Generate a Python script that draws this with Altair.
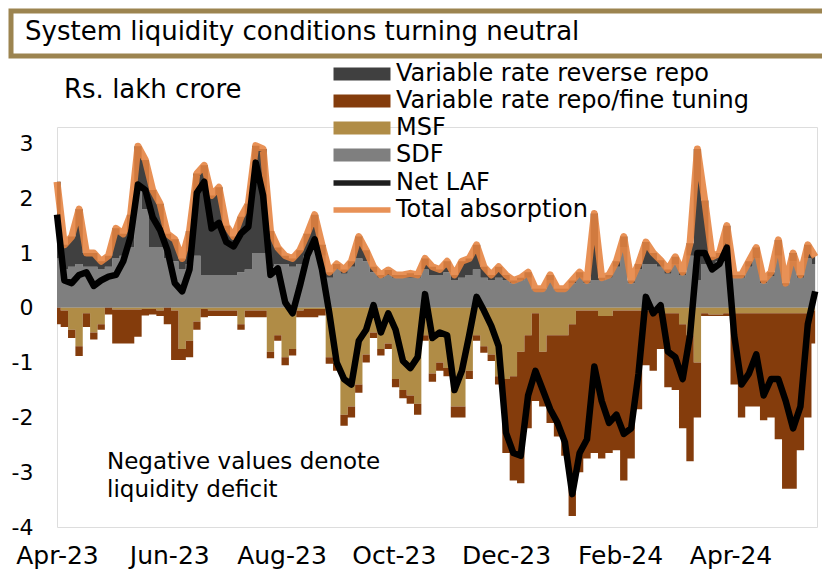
import altair as alt
import pandas as pd

# ---------------- data (Rs. lakh crore), one value every 4 days from 1 Apr 2023 ----------------
dates = pd.date_range("2023-04-01", periods=104, freq="4D").strftime("%Y-%m-%d").tolist()

sdf = [0.9, 0.7, 0.75, 0.8, 0.75, 0.75, 0.7, 0.75, 0.9, 0.95,
       1.1, 2.2, 1.8, 1.1, 1.1, 0.9, 0.85, 0.7, 0.8, 0.95,
       0.6, 0.6, 0.6, 0.6, 0.6, 0.65, 0.7, 1.0, 1.0, 0.75,
       0.8, 0.8, 0.75, 0.8, 0.95, 1.1, 0.95, 0.55, 0.7, 0.62,
       0.75, 0.9, 0.85, 0.65, 0.55, 0.6, 0.55, 0.55, 0.55, 0.55,
       0.7, 0.6, 0.6, 0.65, 0.5, 0.55, 0.6, 0.7, 0.55, 0.5,
       0.55, 0.5, 0.45, 0.5, 0.55, 0.33, 0.33, 0.5, 0.33, 0.33,
       0.45, 0.55, 0.45, 0.5, 0.5, 0.55, 0.75, 1.1, 0.45, 0.7,
       0.8, 0.8, 0.75, 0.62, 0.8, 0.6, 0.95, 0.5, 0.8, 0.8,
       0.85, 1.1, 0.55, 0.55, 0.75, 0.9, 0.45, 0.58, 0.95, 0.42,
       0.85, 0.55, 0.9, 0.8]

vrrr = [1.4, 0.45, 0.55, 1.0, 0.25, 0.25, 0.15, 0.2, 0.55, 0.4,
        0.6, 0.75, 0.9, 1.05, 0.8, 0.45, 0.4, 0.2, 0.6, 1.5,
        2.0, 1.45, 1.6, 0.9, 0.7, 1.01, 1.2, 1.96, 1.9, 0.65,
        0.3, 0.15, 0.15, 0.25, 0.4, 0.6, 0.2, 0.1, 0.1, 0.08,
        0.1, 0.4, 0.2, 0.1, 0.05, 0.09, 0.05, 0.05, 0.08, 0.05,
        0.2, 0.15, 0.1, 0.2, 0.1, 0.3, 0.3, 0.45, 0.2, 0.1,
        0.2, 0.1, 0.05, 0.05, 0.1, 0.02, 0.02, 0.1, 0.02, 0.02,
        0.05, 0.1, 0.05, 1.22, 0.05, 0.05, 0.1, 0.2, 0.05, 0.1,
        0.4, 0.2, 0.12, 0.08, 0.13, 0.05, 0.23, 2.4, 1.16, 0.13,
        0.15, 0.4, 0.05, 0.05, 0.1, 0.2, 0.05, 0.07, 0.29, 0.03,
        0.15, 0.05, 0.25, 0.13]

msf = [0, -0.05, -0.4, -0.7, -0.1, -0.45, -0.3, 0, -0.03, -0.03,
       -0.03, -0.03, -0.02, -0.02, -0.05, 0, -0.05, -0.75, -0.6, -0.25,
       -0.02, -0.05, -0.05, -0.05, -0.05, -0.3, -0.05, -0.05, -0.05, -0.8,
       -0.5, -0.9, -0.75, -0.05, -0.02, -0.02, -0.02, -0.9, -1.0, -1.95,
       -1.8, -1.4, -0.85, -0.45, -0.75, -0.65, -1.3, -1.5, -1.6, -1.75,
       -0.5, -1.2, -1.0, -1.1, -1.8, -1.8, -1.15, -0.5, -0.7, -0.85,
       -1.25, -1.3, -1.25, -0.8, -0.5, -0.1, -0.8, -0.5, -0.5, -0.5,
       -0.3, -0.05, -0.05, -0.05, -0.15, -0.15, -0.05, -0.05, -0.05, -0.05,
       -0.05, -0.05, -0.05, -0.1, -0.1, -0.3, -0.5, -1.0, -0.1, -0.12,
       -0.12, -0.1, -0.1, -0.1, -0.1, -0.1, -0.1, -0.1, -0.1, -0.1,
       -0.1, -0.1, -0.1, -0.05]

vrr = [-0.3, -0.3, -0.15, -0.18, -0.25, -0.13, -0.1, -0.12, -0.62, -0.62,
       -0.62, -0.5, -0.12, -0.1, -0.1, -0.3, -0.9, -0.2, -0.3, -0.15,
       -0.15, -0.1, -0.1, -0.1, -0.1, -0.1, -0.12, -0.12, -0.12, -0.12,
       -0.1, -0.15, -0.12, -0.12, -0.15, -0.15, -0.12, -0.12, -0.15, -0.2,
       -0.2, -0.15, -0.15, -0.1, -0.12, -0.1, -0.15, -0.15, -0.15, -0.2,
       -0.1, -0.15, -0.15, -0.15, -0.2, -0.2, -0.15, -0.1, -0.12, -0.12,
       -0.15, -1.35, -1.9, -2.4, -1.7, -1.6, -1.0, -1.6, -1.85, -2.2,
       -3.5, -2.95, -2.7, -2.6, -2.6, -2.5, -2.55, -3.1, -2.7, -1.8,
       -1.0, -1.1, -0.7, -1.35, -1.4, -1.9, -2.3, -1.0, -0.05, -0.03,
       -0.03, -0.05, -1.3, -1.9, -1.7, -1.7, -1.95, -1.9, -2.3, -3.2,
       -3.2, -2.5, -1.9, -0.6]

net_laf = [1.7, 0.5, 0.45, 0.6, 0.65, 0.4, 0.5, 0.57, 0.6, 0.85,
           1.3, 2.25, 2.15, 1.65, 1.42, 1.05, 0.45, 0.3, 0.7, 2.1,
           2.3, 1.45, 1.55, 1.2, 1.12, 1.36, 1.48, 2.65, 2.05, 0.6,
           0.72, 0.1, -0.1, 0.4, 0.95, 1.25, 0.7, -0.1, -1.0, -1.3,
           -1.4, -0.6, -0.4, 0.05, -0.45, -0.1, -0.4, -0.97, -1.1, -0.9,
           0.25, -0.55, -0.45, -0.5, -1.5, -1.15, -0.5, 0.2, -0.05, -0.33,
           -0.7, -2.28, -2.65, -2.7, -1.6, -1.15, -1.5, -1.85, -2.1, -2.45,
           -3.4, -2.65, -2.4, -1.07, -1.7, -2.1, -1.95, -2.3, -2.2, -1.2,
           0.2, -0.1, 0.05, -0.8, -0.9, -1.3, -0.5, 1.0, 1.0, 0.7,
           0.8, 1.1, -0.5, -1.4, -1.2, -0.85, -1.6, -1.3, -1.3, -1.7,
           -2.2, -1.8, -0.3, 0.3]

area_names = ["Variable rate reverse repo", "Variable rate repo/fine tuning", "MSF", "SDF"]
area_colors = ["#404040", "#843C0C", "#B08C46", "#7F7F7F"]
line_names = ["Net LAF", "Total absorption"]
line_colors = ["#000000", "#E5823F"]
tick_dates = ["2023-04-01", "2023-06-01", "2023-08-01", "2023-10-01",
              "2023-12-01", "2024-02-01", "2024-04-01"]
y_ticks = [3, 2, 1, 0, -1, -2, -3, -4]

# ---------------- tables ----------------
rows = []
for i, d in enumerate(dates):
    rows.append({"date": d, "series": "SDF", "value": sdf[i], "k": 0})
    rows.append({"date": d, "series": "Variable rate reverse repo", "value": vrrr[i], "k": 1})
    rows.append({"date": d, "series": "MSF", "value": msf[i], "k": 2})
    rows.append({"date": d, "series": "Variable rate repo/fine tuning", "value": vrr[i], "k": 3})
area_df = pd.DataFrame(rows)
line_df = pd.DataFrame({"date": dates, "net": net_laf,
                        "total": [round(a + b, 3) for a, b in zip(sdf, vrrr)]})

FONT = "DejaVu Sans"


def dt(s):
    y, m, d = (int(p) for p in s.split("-"))
    return alt.DateTime(year=y, month=m, date=d, utc=True)


x_enc = alt.X(
    "date:T",
    title=None,
    scale=alt.Scale(type="utc", domain=[dt("2023-04-01"), dt("2024-05-18")], nice=False),
    axis=alt.Axis(values=[dt(s) for s in tick_dates],
                  labelExpr="utcFormat(datum.value, '%b-%y')",
                  labelFont=FONT, labelFontSize=25, labelColor="#000000",
                  domain=False, ticks=False, grid=False, labelPadding=36,
                  labelBaseline="alphabetic", labelAlign="center", labelOverlap=False),
)
y_scale = alt.Scale(domain=[-4, 3.3], nice=False, zero=False)

areas = alt.Chart(area_df).mark_area(interpolate="step").encode(
    x=x_enc,
    y=alt.Y("value:Q", stack="zero", scale=y_scale, title=None,
            axis=alt.Axis(values=y_ticks, labelExpr="'' + datum.value",
                          labelFont=FONT, labelFontSize=22,
                          labelColor="#000000", domain=False, ticks=False,
                          grid=False, labelPadding=24)),
    color=alt.Color("series:N",
                    scale=alt.Scale(domain=area_names, range=area_colors),
                    legend=alt.Legend(orient="none", legendX=293, legendY=-65,
                                      title=None, padding=0,
                                      symbolType="M-4,-0.9H4V0.9H-4Z", symbolSize=203,
                                      symbolStrokeWidth=0, symbolOpacity=1,
                                      labelOffset=22, labelFont=FONT, labelFontSize=24,
                                      labelColor="#000000", labelLimit=600, rowPadding=3)),
    order=alt.Order("k:Q"),
)

stroke_scale = alt.Scale(domain=line_names, range=line_colors)
stroke_legend = alt.Legend(orient="none", legendX=293, legendY=44, title=None, padding=0,
                           symbolType="M-4,0H4", symbolSize=203, symbolStrokeWidth=5.5,
                           labelOffset=22, labelFont=FONT, labelFontSize=24,
                           labelColor="#000000", labelLimit=600, rowPadding=3)

total_line = alt.Chart(line_df).transform_calculate(line="'Total absorption'").mark_line(
    strokeWidth=7, opacity=0.88, strokeJoin="round").encode(
    x=x_enc, y=alt.Y("total:Q", scale=y_scale),
    stroke=alt.Stroke("line:N", scale=stroke_scale, legend=stroke_legend))

net_line = alt.Chart(line_df).transform_calculate(line="'Net LAF'").mark_line(
    strokeWidth=6.5, strokeJoin="round").encode(
    x=x_enc, y=alt.Y("net:Q", scale=y_scale),
    stroke=alt.Stroke("line:N", scale=stroke_scale, legend=stroke_legend))

one = pd.DataFrame({"a": [0]})
title_box = alt.Chart(one).mark_rect(fill="white", stroke="#9C8450", strokeWidth=5).encode(
    x=alt.value(-46), x2=alt.value(800), y=alt.value(-116), y2=alt.value(-71))
title_text = alt.Chart(one).mark_text(align="left", baseline="middle", font=FONT,
                                      fontSize=26, color="#000000").encode(
    x=alt.value(-32), y=alt.value(-95), text=alt.value("System liquidity conditions turning neutral"))
unit_text = alt.Chart(one).mark_text(align="left", baseline="middle", font=FONT,
                                     fontSize=26, color="#000000").encode(
    x=alt.value(7), y=alt.value(-37), text=alt.value("Rs. lakh crore"))
note_text = alt.Chart(one).mark_text(align="left", baseline="middle", font=FONT,
                                     fontSize=23, color="#000000", lineHeight=28).encode(
    x=alt.value(50), y=alt.value(335),
    text=alt.value(["Negative values denote", "liquidity deficit"]))

chart = alt.layer(title_box, title_text, unit_text, areas, total_line, net_line, note_text).properties(
    width=760, height=400,
    autosize=alt.AutoSizeParams(type="none"),
    padding={"left": 49, "top": 119, "right": 5, "bottom": 42},
).configure_view(stroke=None).configure(background="white")

chart.save("out.html", embed_options={"renderer": "svg", "actions": False})
